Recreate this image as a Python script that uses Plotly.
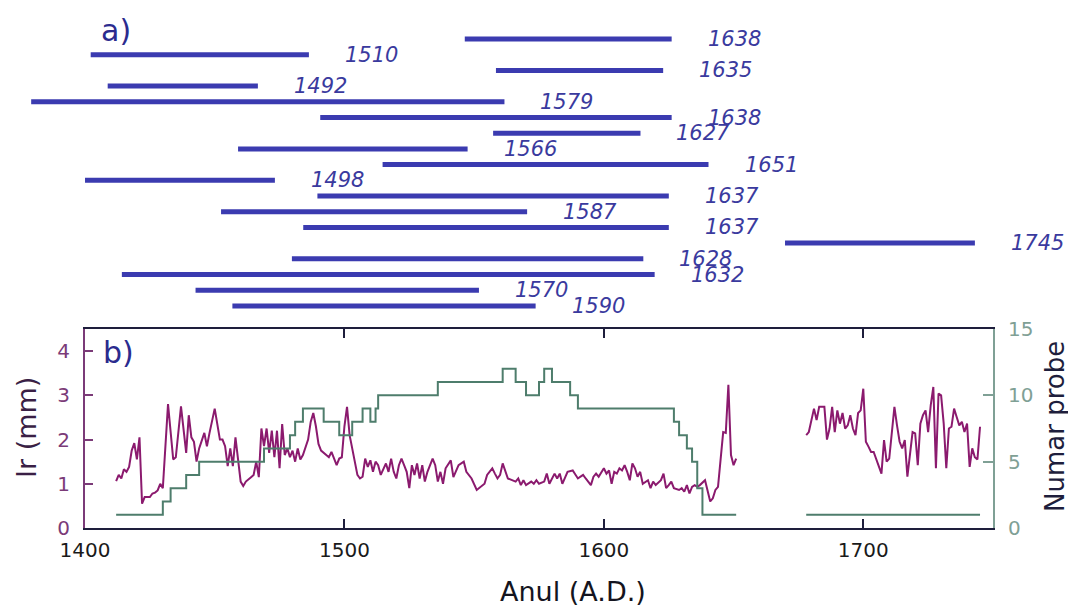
import plotly.graph_objects as go

# page is drawn with an 8px body margin, so the figure covers page pixels 8..1076 / 8..611
OFF = 8
W, H = 1076 - OFF, 611 - OFF

# ---- panel a): sample spans (top to bottom) ----
span_start = [1565, 1433, 1576, 1439, 1412, 1514, 1575, 1485, 1536,
              1431, 1513, 1479, 1508, 1678, 1504, 1444, 1470, 1483]
span_end = [1638, 1510, 1635, 1492, 1579, 1638, 1627, 1566, 1651,
            1498, 1637, 1587, 1637, 1745, 1628, 1632, 1570, 1590]

# ---- panel b): ring width (mm) ----
ir_years_1 = [1412, 1413, 1414, 1415, 1416, 1417, 1418, 1419, 1420, 1421, 1422, 1423, 1425, 1426,
              1427, 1428, 1429, 1430, 1432, 1434, 1435, 1437, 1439, 1440, 1441, 1442, 1443, 1444,
              1446, 1447, 1448, 1450, 1452, 1453, 1454, 1455, 1456, 1457, 1458, 1459, 1460, 1461,
              1462, 1464, 1465, 1466, 1467, 1468, 1469, 1470, 1471, 1472, 1473, 1474, 1475, 1476,
              1477, 1478, 1479, 1480, 1481, 1482, 1483, 1484, 1486, 1487, 1488, 1489, 1490, 1491,
              1492, 1494, 1495, 1497, 1498, 1499, 1500, 1501, 1502, 1503, 1504, 1505, 1506, 1507,
              1508, 1509, 1510, 1511, 1512, 1513, 1514, 1515, 1516, 1517, 1518, 1519, 1520, 1521,
              1522, 1523, 1524, 1525, 1526, 1527, 1528, 1529, 1530, 1531, 1532, 1534, 1535, 1536,
              1537, 1538, 1539, 1541, 1542, 1544, 1546, 1547, 1549, 1551, 1552, 1554, 1555, 1557,
              1558, 1559, 1560, 1561, 1563, 1565, 1566, 1567, 1568, 1569, 1570, 1572, 1573, 1574,
              1575, 1577, 1578, 1579, 1581, 1582, 1583, 1584, 1586, 1588, 1590, 1591, 1592, 1593,
              1595, 1596, 1597, 1598, 1600, 1601, 1602, 1603, 1604, 1605, 1606, 1607, 1608, 1609,
              1610, 1611, 1612, 1613, 1614, 1615, 1617, 1618, 1619, 1620, 1622, 1623, 1624, 1625,
              1626, 1627, 1629, 1630, 1631, 1632, 1633, 1634, 1635, 1636, 1637, 1639, 1640, 1641,
              1642, 1643, 1644, 1645, 1646, 1647, 1648, 1649, 1650, 1651]
ir_values_1 = [1.06, 1.20, 1.12, 1.33, 1.27, 1.38, 1.75, 1.92, 1.55, 2.05, 0.55, 0.70, 0.70, 0.78,
               0.80, 0.85, 1.00, 0.90, 2.80, 1.55, 1.60, 2.75, 1.70, 2.55, 2.05, 1.95, 1.50, 1.80,
               2.15, 1.85, 2.15, 2.70, 2.00, 2.00, 1.85, 1.40, 1.80, 1.40, 2.05, 1.50, 1.05, 0.95,
               1.05, 1.15, 1.20, 1.50, 1.15, 2.25, 1.85, 2.25, 1.70, 2.20, 1.60, 2.20, 1.35, 2.35,
               1.65, 1.80, 1.60, 1.75, 1.50, 1.80, 1.55, 1.65, 2.00, 2.40, 2.60, 2.30, 1.90, 1.75,
               1.70, 1.60, 1.72, 1.42, 1.57, 1.60, 2.30, 2.74, 2.10, 1.80, 1.45, 1.20, 1.12, 1.16,
               1.57, 1.38, 1.53, 1.27, 1.50, 1.42, 1.20, 1.35, 1.46, 1.27, 1.57, 1.27, 1.12, 1.42,
               1.57, 1.42, 1.27, 0.90, 1.42, 1.20, 1.46, 1.12, 1.42, 1.05, 1.27, 1.57, 1.42, 1.05,
               1.27, 1.00, 1.35, 1.53, 1.15, 1.42, 1.50, 1.27, 1.12, 0.86, 0.90, 1.00, 1.20, 1.35,
               1.23, 1.12, 1.20, 1.46, 1.12, 1.08, 1.05, 1.12, 0.97, 1.08, 0.97, 1.05, 1.00, 1.08,
               1.00, 1.05, 1.23, 1.00, 1.23, 1.12, 1.23, 1.00, 1.27, 1.30, 1.12, 1.16, 1.20, 1.12,
               0.97, 1.16, 1.23, 1.16, 1.35, 1.23, 1.30, 1.00, 1.27, 1.23, 1.35, 1.30, 1.42, 1.27,
               1.08, 1.46, 1.35, 1.16, 1.27, 1.00, 1.08, 0.90, 1.05, 0.97, 1.08, 1.23, 0.90, 0.97,
               1.05, 0.90, 0.86, 0.90, 0.82, 0.97, 0.78, 0.93, 0.97, 0.93, 0.97, 1.08, 0.82, 0.60,
               0.67, 0.86, 0.93, 1.65, 2.17, 2.15, 3.24, 1.65, 1.42, 1.57]

ir_years_2 = [1678, 1679, 1681, 1682, 1683, 1685, 1686, 1687, 1688, 1689, 1690, 1691, 1692, 1693,
              1694, 1695, 1696, 1697, 1698, 1699, 1700, 1701, 1702, 1703, 1704, 1705, 1706, 1707,
              1708, 1709, 1710, 1711, 1712, 1713, 1714, 1715, 1716, 1717, 1718, 1719, 1720, 1721,
              1722, 1723, 1724, 1725, 1726, 1727, 1728, 1729, 1730, 1731, 1732, 1733, 1734, 1735,
              1736, 1737, 1738, 1739, 1740, 1741, 1742, 1743, 1744, 1745]
ir_values_2 = [2.10, 2.17, 2.70, 2.44, 2.74, 2.74, 2.00, 2.25, 2.74, 2.17, 2.66, 2.36, 2.60, 2.25,
               2.32, 2.55, 2.25, 2.10, 2.60, 2.66, 3.15, 1.95, 1.84, 1.72, 1.72, 1.57, 1.42, 1.23,
               1.99, 1.50, 1.57, 2.17, 2.74, 2.32, 1.95, 1.80, 1.99, 1.16, 1.60, 2.17, 2.14, 1.42,
               2.36, 2.55, 2.66, 2.17, 2.78, 3.19, 1.35, 3.04, 3.00, 2.36, 1.35, 2.25, 2.29, 2.70,
               2.51, 2.32, 2.40, 2.17, 2.36, 1.38, 1.80, 1.60, 1.55, 2.29]

# ---- panel b): number of samples (step changes) ----
depth_years_1 = [1412, 1430, 1433, 1439, 1444, 1469, 1479, 1481, 1484, 1492, 1498, 1503, 1507,
                 1510, 1512, 1513, 1536, 1561, 1566, 1570, 1575, 1577, 1580, 1587, 1590, 1627,
                 1629, 1632, 1634, 1636, 1638, 1651]
depth_counts_1 = [1, 2, 3, 4, 5, 6, 7, 8, 9, 8, 7, 8, 9, 8, 9, 10, 11, 12, 11, 10, 11, 12, 11,
                  10, 9, 8, 7, 6, 5, 3, 1, 1]
depth_years_2 = [1678, 1745]
depth_counts_2 = [1, 1]

ir_ticks = [0, 1, 2, 3, 4]
depth_ticks = [0, 5, 10, 15]
year_ticks = [1400, 1500, 1600, 1700]

FONT = "DejaVu Sans"
SEG = "#3B3BB0"
SEG_TXT = "#3A3A9E"
IR_COL = "#8B1A6E"
DEPTH_COL = "#4E7D6C"
LEFT_COL = "#7B3B78"
RIGHT_COL = "#7FA095"
AX_COL = "#1E1E3C"


def px(x):
    return (x - OFF) / W


def py(y):
    return 1 - (y - OFF) / H


# top panel: 2.834 px per year, year 1401 at page x=0; rows 15.7 px apart from y=39
yr_per_px = 1 / 2.834
row_h, row0_y = 15.7, 39

fig = go.Figure()

# panel a) segments
seg_x, seg_y = [], []
rows = list(range(1, len(span_start) + 1))
for s, e, r in zip(span_start, span_end, rows):
    seg_x += [s, e, None]
    seg_y += [r, r, None]
fig.add_trace(go.Scatter(x=seg_x, y=seg_y, mode="lines", xaxis="x3", yaxis="y3",
                         line=dict(color=SEG, width=5), hoverinfo="skip", showlegend=False))

annotations = []
for e, r in zip(span_end, rows):
    annotations.append(dict(x=e, y=r, xref="x3", yref="y3", text=str(e), showarrow=False,
                            xanchor="left", yanchor="middle", xshift=34,
                            font=dict(family=FONT, size=21, color=SEG_TXT, style="italic")))

# panel b) ring width
fig.add_trace(go.Scatter(x=ir_years_1 + [None] + ir_years_2,
                         y=ir_values_1 + [None] + ir_values_2,
                         mode="lines", line=dict(color=IR_COL, width=2),
                         connectgaps=False, showlegend=False, name="Ir"))

# panel b) sample depth
fig.add_trace(go.Scatter(x=depth_years_1 + [None] + depth_years_2,
                         y=depth_counts_1 + [None] + depth_counts_2,
                         mode="lines", line=dict(color=DEPTH_COL, width=2, shape="hv"),
                         yaxis="y2", connectgaps=False, showlegend=False, name="Numar probe"))


def label(x, y, text, size, color, angle=0):
    return dict(x=px(x), y=py(y), xref="paper", yref="paper", text=text, showarrow=False,
                xanchor="center", yanchor="middle", textangle=angle,
                font=dict(family=FONT, size=size, color=color))


annotations += [
    label(116, 30, "a)", 30, "#2B2B8E"),
    label(118, 353, "b)", 30, "#2B2B8E"),
    label(26, 428, "Ir (mm)", 27, "#3A1F45", -90),
    label(1055, 427, "Numar probe", 26, AX_COL, -90),
    label(573, 591, "Anul (A.D.)", 27, "#141420"),
]

top_bottom_px = 320
fig.update_layout(
    template="none",
    width=W, height=H,
    margin=dict(l=0, r=0, t=0, b=0, pad=0),
    paper_bgcolor="white", plot_bgcolor="rgba(0,0,0,0)",
    showlegend=False,
    font=dict(family=FONT),
    xaxis=dict(domain=[px(85), px(993)], range=[1400, 1750], tickvals=year_ticks,
               showline=True, linecolor=AX_COL, linewidth=2, mirror="ticks",
               ticks="inside", ticklen=9, tickwidth=2, tickcolor=AX_COL,
               showgrid=False, zeroline=False, anchor="y", automargin=False,
               tickfont=dict(family=FONT, size=20, color="#1A1A1A"), ticklabelstandoff=3),
    yaxis=dict(domain=[py(528), py(329)], range=[0, 4.5], tickvals=ir_ticks,
               showline=True, linecolor=LEFT_COL, linewidth=2,
               ticks="inside", ticklen=8, tickwidth=1.5, tickcolor=LEFT_COL,
               showgrid=False, zeroline=False, anchor="x", automargin=False,
               tickfont=dict(family=FONT, size=20, color=LEFT_COL), ticklabelstandoff=9),
    yaxis2=dict(overlaying="y", side="right", anchor="x", range=[0, 15], tickvals=depth_ticks,
                showline=True, linecolor=RIGHT_COL, linewidth=2,
                ticks="inside", ticklen=10, tickwidth=1.5, tickcolor=RIGHT_COL,
                showgrid=False, zeroline=False, automargin=False,
                tickfont=dict(family=FONT, size=20, color=RIGHT_COL), ticklabelstandoff=9),
    xaxis3=dict(domain=[0, 1], range=[1401.0 + OFF * yr_per_px, 1401.0 + 1076 * yr_per_px],
                visible=False, anchor="y3", automargin=False),
    yaxis3=dict(domain=[py(top_bottom_px), 1],
                range=[1 + (top_bottom_px - row0_y) / row_h, 1 + (OFF - row0_y) / row_h],
                visible=False, anchor="x3", automargin=False),
    annotations=annotations,
)

fig.write_html("out.html")
